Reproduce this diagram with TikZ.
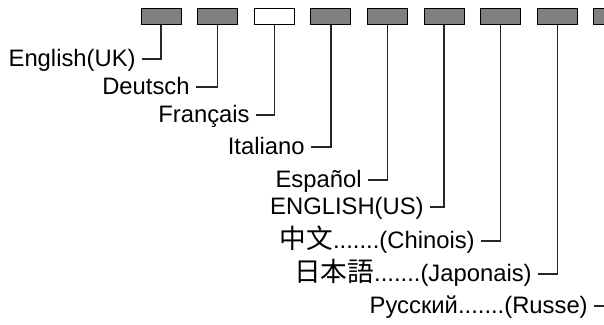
\documentclass[tikz,border=0pt]{standalone}
\usepackage{fontspec}
\setmainfont{Liberation Sans}
\newfontfamily\zhfont{Noto Sans CJK SC}[Scale=1.12]
\newfontfamily\jafont{Noto Sans CJK JP}[Scale=1.12]
\begin{document}
\begin{tikzpicture}[
    x=0.5pt, y=-0.5pt,
    every node/.style={font=\fontsize{11.9}{14}\selectfont},
    keybox/.style={rectangle, draw=black, line width=0.5pt, fill=black!50, minimum width=20pt, minimum height=8pt, inner sep=0pt},
    lab/.style={anchor=east, inner xsep=3pt, inner ysep=0pt, text height=0.72em, text depth=0pt},
    wire/.style={line width=0.7pt, black!85}
]
\clip (0,0) rectangle (604,325);
\foreach \i in {1,...,9}
    \node[keybox] (b\i) at ({161+56.6*(\i-1)}, 17) {};
\node[keybox, fill=white] at (b3) {};
\node[lab] (uk) at (142, 59)  {English(UK)};
\node[lab] (de) at (196, 87)  {Deutsch};
\node[lab] (fr) at (256, 115) {Français};
\node[lab] (it) at (311, 147) {Italiano};
\node[lab] (es) at (368, 180) {Español};
\node[lab] (us) at (430, 207) {ENGLISH(US)};
\node[lab] (zh) at (481, 241) {{\zhfont 中文}.......(Chinois)};
\node[lab] (ja) at (538, 274) {{\jafont 日本語}.......(Japonais)};
\node[lab] (ru) at (594, 306) {Русский.......(Russe)};
\draw[wire] (uk.east) -| (b1.south);
\draw[wire] (de.east) -| (b2.south);
\draw[wire] (fr.east) -| (b3.south);
\draw[wire] (it.east) -| (b4.south);
\draw[wire] (es.east) -| (b5.south);
\draw[wire] (us.east) -| (b6.south);
\draw[wire] (zh.east) -| (b7.south);
\draw[wire] (ja.east) -| (b8.south);
\draw[wire] (ru.east) -| (b9.south);
\end{tikzpicture}
\end{document}
